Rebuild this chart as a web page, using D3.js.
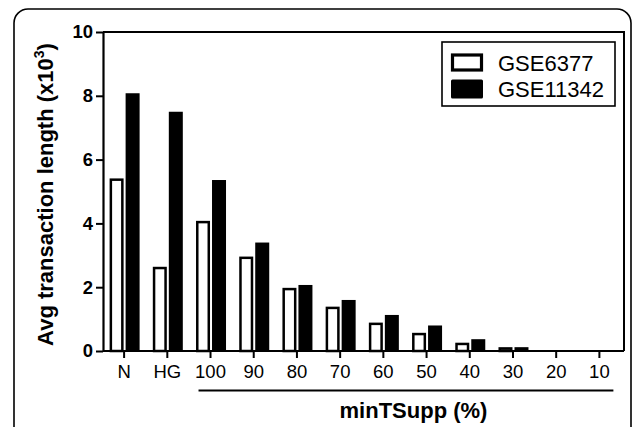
<!DOCTYPE html>
<html>
<head>
<meta charset="utf-8">
<script src="https://cdn.jsdelivr.net/npm/d3@7"></script>
<style>
  body { margin: 0; background: #fff; }
  svg { display: block; font-family: "Liberation Sans", Arial, sans-serif; }
</style>
</head>
<body>
<svg id="chart" width="633" height="427"></svg>
<script>
const categories = ["N", "HG", "100", "90", "80", "70", "60", "50", "40", "30", "20", "10"];
const gse6377  = [5.41, 2.64, 4.08, 2.96, 1.98, 1.39, 0.89, 0.57, 0.26, 0.12, 0, 0];
const gse11342 = [8.08, 7.50, 5.36, 3.40, 2.07, 1.60, 1.13, 0.80, 0.37, 0.12, 0, 0];
const seriesNames = ["GSE6377", "GSE11342"];
const yTicks = [0, 2, 4, 6, 8, 10];
const groupCats = ["100", "10"];   // first and last category under the minTSupp bracket

const svg = d3.select("#chart");
const plot = {left: 103, right: 624, top: 32, bottom: 351};

// outer rounded frame (runs off the bottom of the picture)
svg.append("rect")
    .attr("x", 14).attr("y", 9)
    .attr("width", 617).attr("height", 440)
    .attr("rx", 14)
    .attr("fill", "none").attr("stroke", "#000").attr("stroke-width", 1.6);

const x = d3.scaleBand().domain(categories).range([102.5, 621]).padding(0);
const xs = d3.scaleBand().domain(seriesNames).range([-14.5, 15.5]).paddingInner(0.125);
const y = d3.scaleLinear().domain([0, 10]).range([plot.bottom, plot.top]);

const center = c => x(c) + x.bandwidth() / 2;

// frame top / right
svg.append("path")
    .attr("d", "M" + plot.left + "," + plot.top + "H" + plot.right + "V" + plot.bottom)
    .attr("fill", "none").attr("stroke", "#000").attr("stroke-width", 2);

// bars
const rows = categories.map((c, i) => ({cat: c, vals: [gse6377[i], gse11342[i]]}));
const sw = 2.5;

const g = svg.append("g");
rows.forEach(r => {
	// open bar
	let v0 = r.vals[0];
	if (v0 > 0) {
		g.append("rect")
		    .attr("x", center(r.cat) + xs(seriesNames[0]) + sw / 2)
		    .attr("y", y(v0) + sw / 2)
		    .attr("width", xs.bandwidth() - sw)
		    .attr("height", Math.max(0, y(0) - y(v0) - sw / 2))
		    .attr("fill", "#fff").attr("stroke", "#000").attr("stroke-width", sw);
	}
	// filled bar
	let v1 = r.vals[1];
	if (v1 > 0) {
		g.append("rect")
		    .attr("x", center(r.cat) + xs(seriesNames[1]))
		    .attr("y", y(v1))
		    .attr("width", xs.bandwidth())
		    .attr("height", y(0) - y(v1))
		    .attr("fill", "#000");
	}
});

// y axis
const yAxis = svg.append("g")
    .attr("transform", "translate(" + plot.left + ",0)")
    .call(d3.axisLeft(y).tickValues(yTicks).tickSize(7).tickPadding(3).tickSizeOuter(0));
yAxis.select(".domain").attr("stroke-width", 2.2);
yAxis.selectAll(".tick line").attr("stroke-width", 2);
yAxis.selectAll("text")
    .attr("font-size", 18.5).attr("font-weight", "bold")
    .attr("font-family", "Liberation Sans, Arial, sans-serif").attr("fill", "#000");

// x axis
const xAxis = svg.append("g")
    .attr("transform", "translate(0," + plot.bottom + ")")
    .call(d3.axisBottom(x).tickSize(7).tickPadding(6.5).tickSizeOuter(0));
xAxis.select(".domain").attr("d", "M" + plot.left + ",0H" + plot.right).attr("stroke-width", 2.2);
xAxis.selectAll(".tick line").attr("stroke-width", 2);
xAxis.selectAll("text")
    .attr("font-size", 18.5)
    .attr("font-family", "Liberation Sans, Arial, sans-serif").attr("fill", "#000");

// group bracket and label
const gx0 = center(groupCats[0]) - 12;
const gx1 = center(groupCats[1]) + 14;
svg.append("line")
    .attr("x1", gx0).attr("x2", gx1).attr("y1", 390.5).attr("y2", 390.5)
    .attr("stroke", "#000").attr("stroke-width", 2);
svg.append("text")
    .attr("x", 413.5).attr("y", 418)
    .attr("text-anchor", "middle")
    .attr("font-size", 22).attr("font-weight", "bold")
    .text("minTSupp (%)");

// y title
const yt = svg.append("text")
    .attr("transform", "translate(53," + ((plot.top + plot.bottom) / 2 + 3) + ") rotate(-90)")
    .attr("text-anchor", "middle")
    .attr("font-size", 22).attr("font-weight", "bold");
yt.append("tspan").text("Avg transaction length (x10");
yt.append("tspan").attr("font-size", 14).attr("dy", -9).text("3");
yt.append("tspan").attr("dy", 9).text(")");

// legend
const lg = svg.append("g");
lg.append("rect")
    .attr("x", 442).attr("y", 42).attr("width", 173).attr("height", 64)
    .attr("fill", "#fff").attr("stroke", "#000").attr("stroke-width", 1.6);
const ly = [62.5, 89];
seriesNames.forEach((s, i) => {
	if (i == 0) {
		lg.append("rect")
		    .attr("x", 452.5).attr("y", ly[i] - 7.5).attr("width", 29).attr("height", 15)
		    .attr("fill", "#fff").attr("stroke", "#000").attr("stroke-width", 3.2);
	}
	else {
		lg.append("rect")
		    .attr("x", 451).attr("y", ly[i] - 9.5).attr("width", 32).attr("height", 19)
		    .attr("rx", 1.5)
		    .attr("fill", "#000");
	}
	lg.append("text")
	    .attr("x", 498).attr("y", ly[i] + 8)
	    .attr("font-size", 22)
	    .text(s);
});
</script>
</body>
</html>
